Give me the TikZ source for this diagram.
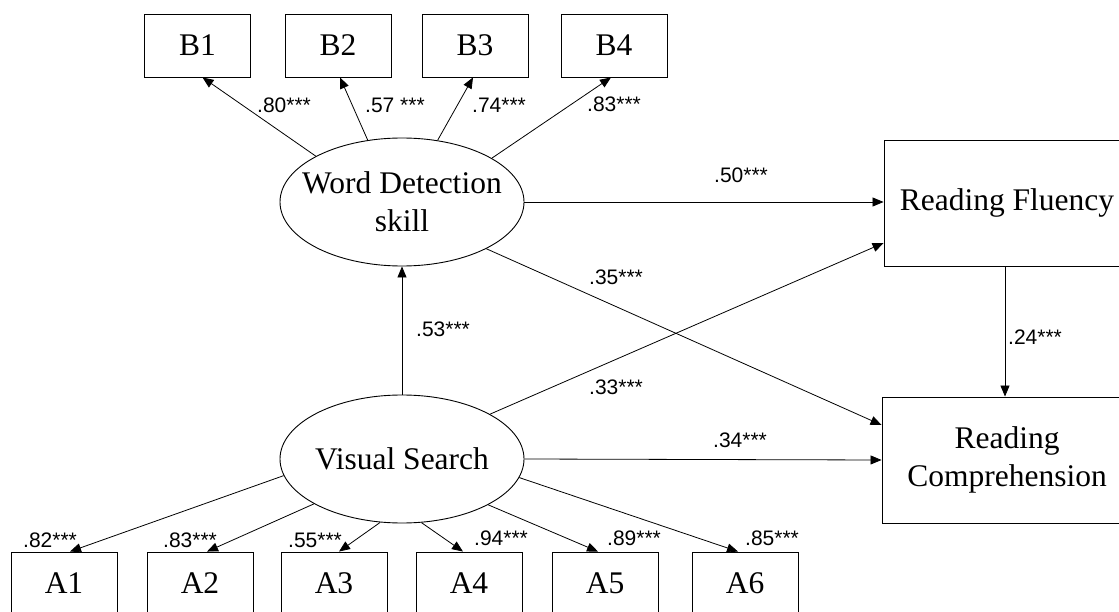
\documentclass[tikz,border=0pt]{standalone}
\usepackage{fontspec}
\setmainfont{Liberation Serif}
\newfontfamily\labfont{Liberation Sans}
\usetikzlibrary{arrows.meta,shapes.geometric}
\begin{document}
\begin{tikzpicture}[x=1pt,y=-1pt,
  box/.style={draw, line width=0.9pt, rectangle, inner sep=0pt, font=\fontsize{31.5}{38}\selectfont, align=center},
  ind/.style={box, minimum width=106pt, minimum height=63pt},
  lat/.style={draw, ellipse, line width=0.9pt, minimum width=244pt, minimum height=128pt, inner xsep=-20pt, inner ysep=0pt, font=\fontsize{31.5}{38}\selectfont, align=center},
  arr/.style={draw, line width=0.8pt, -{Triangle[length=11pt,width=9pt]}},
  coef/.style={anchor=base west, inner sep=0pt, font=\labfont\fontsize{21}{21}\selectfont}]
\useasboundingbox (0,0) rectangle (1119,612);
\clip (0,0) rectangle (1119,612);
% indicators B
\node[ind] (b1) at (197.5,45.5) {B1};
\node[ind] (b2) at (338,45.5) {B2};
\node[ind] (b3) at (475,45.5) {B3};
\node[ind] (b4) at (614,45.5) {B4};
% latent
\node[lat] (wd) at (402,202) {Word Detection\\skill};
\node[lat] (vs) at (402,459) {Visual Search};
% outcomes
\node[box, minimum width=246pt, minimum height=126pt] (rf) at (1007,203) {Reading Fluency};
\node[box, minimum width=250pt, minimum height=126pt] (rc) at (1007,460) {Reading\\Comprehension};
% indicators A
\node[ind] (a1) at (64,583.5) {A1};
\node[ind] (a2) at (200,583.5) {A2};
\node[ind] (a3) at (334,583.5) {A3};
\node[ind] (a4) at (469,583.5) {A4};
\node[ind] (a5) at (605,583.5) {A5};
\node[ind] (a6) at (745,583.5) {A6};
% arrows
\draw[arr] (wd.152.6) -- ([xshift=5pt]b1.south);
\draw[arr] (wd.119.1) -- ([xshift=2pt]b2.south);
\draw[arr] (wd.60.9) -- ([xshift=-2pt]b3.south);
\draw[arr] (wd.26.6) -- ([xshift=-3pt]b4.south);
\draw[arr] (wd.east) -- (wd.east -| rf.west);
\draw[arr] (wd.331.9) -- ([yshift=35pt]rc.west);
\draw[arr] (vs.north) -- (wd.south);
\draw[arr] (vs.27.6) -- ([yshift=-40pt]rf.west);
\draw[arr] (vs.east) -- (rc.west);
\draw[arr] ([xshift=-2pt]rf.south) -- ([xshift=-2pt]rc.north);
\draw[arr] (vs.188.4) -- ([xshift=6pt]a1.north);
\draw[arr] (vs.207.3) -- ([xshift=7pt]a2.north);
\draw[arr] (vs.251) -- ([xshift=5pt]a3.north);
\draw[arr] (vs.287.6) -- ([xshift=-6pt]a4.north);
\draw[arr] (vs.332.9) -- ([xshift=-7pt]a5.north);
\draw[arr] (vs.351.5) -- ([xshift=-7pt]a6.north);
% coefficients
\node[coef] (l1) at (257,113) {.80***};
\node[coef] (l2) at (365,113) {.57 ***};
\node[coef] (l3) at (472,113) {.74***};
\node[coef] (l4) at (587,112) {.83***};
\node[coef] (l5) at (714,183) {.50***};
\node[coef] (l6) at (589,285) {.35***};
\node[coef] (l7) at (416,337) {.53***};
\node[coef] (l8) at (589,394) {.33***};
\node[coef] (l9) at (713,447) {.34***};
\node[coef] (l10) at (1008,344) {.24***};
\node[coef] (l11) at (23,547) {.82***};
\node[coef] (l12) at (163,547) {.83***};
\node[coef] (l13) at (288,547) {.55***};
\node[coef] (l14) at (474,545) {.94***};
\node[coef] (l15) at (607,545) {.89***};
\node[coef] (l16) at (745,545) {.85***};
\end{tikzpicture}
\end{document}
